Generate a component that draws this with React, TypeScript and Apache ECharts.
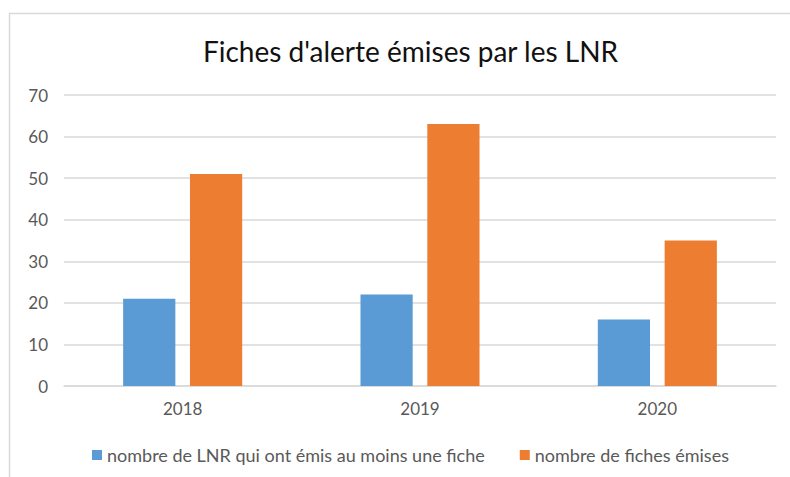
import React, { useEffect, useRef } from "react";
import * as echarts from "echarts";

const categories = ["2018", "2019", "2020"];
const lnrValues = [21, 22, 16];
const ficheValues = [51, 63, 35];
const seriesNames = ["nombre de LNR qui ont émis au moins une fiche", "nombre de fiches émises"];
const titleText = "Fiches d'alerte émises par les LNR";

export default function App() {
  const ref = useRef<HTMLDivElement>(null);
  useEffect(() => {
    if (!ref.current) return;
    const chart = echarts.init(ref.current, null, { renderer: "svg" });
    const font = "Lato, 'Open Sans', sans-serif";
    chart.setOption({
      animation: false,
      backgroundColor: "#ffffff",
      title: {
        text: titleText,
        left: 198,
        top: 32,
        textStyle: { fontFamily: font, fontSize: 28, fontWeight: "normal", color: "#111111" },
      },
      graphic: [
        {
          type: "rect",
          shape: { x: 9.5, y: 13.5, width: 900, height: 600 },
          style: { fill: "none", stroke: "#d9d9d9", lineWidth: 1.5 },
          silent: true,
        },
      ],
      legend: {
        bottom: 8,
        left: 87,
        itemWidth: 10,
        itemHeight: 10,
        itemGap: 35,
        icon: "rect",
        textStyle: { fontFamily: font, fontSize: 18, color: "#595959" },
        data: seriesNames,
      },
      grid: { left: 64, right: 14, top: 95, bottom: 91, containLabel: false },
      xAxis: {
        type: "category",
        data: categories,
        axisLine: { lineStyle: { color: "#d9d9d9", width: 1.5 } },
        axisTick: { show: false },
        axisLabel: { fontFamily: font, fontSize: 17, color: "#595959", margin: 14 },
      },
      yAxis: {
        type: "value",
        min: 0,
        max: 70,
        interval: 10,
        axisLine: { show: false },
        axisTick: { show: false },
        splitLine: { lineStyle: { color: "#d9d9d9", width: 1.5 } },
        axisLabel: { fontFamily: font, fontSize: 17, color: "#595959", margin: 16 },
      },
      series: [
        {
          name: seriesNames[0],
          type: "bar",
          data: lnrValues,
          barWidth: "22%",
          barGap: "28%",
          itemStyle: { color: "#5b9bd5" },
        },
        {
          name: seriesNames[1],
          type: "bar",
          data: ficheValues,
          barWidth: "22%",
          itemStyle: { color: "#ed7d31" },
        },
      ],
    });
    return () => chart.dispose();
  }, []);
  return (
    <div
      ref={ref}
      style={{ position: "fixed", left: 0, top: 0, width: 790, height: 477 }}
    />
  );
}
